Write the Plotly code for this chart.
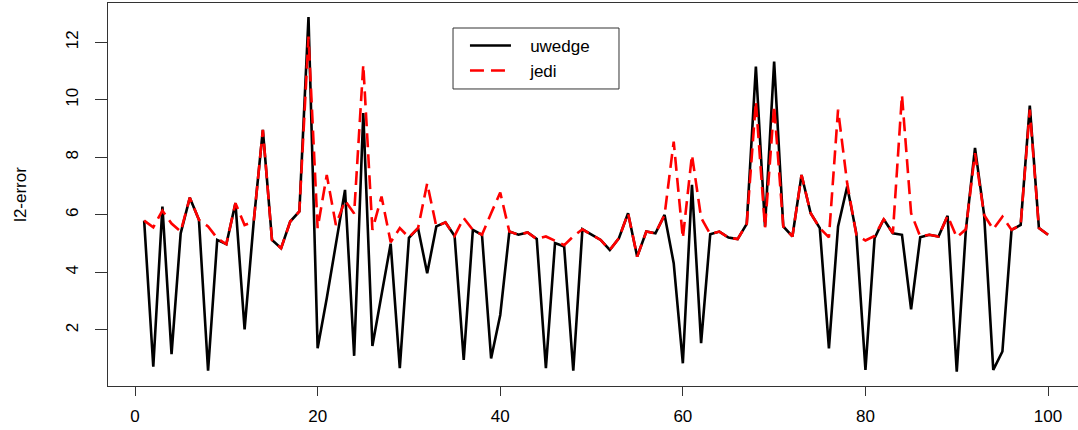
import plotly.graph_objects as go

x_index = list(range(1, 101))

uwedge = [5.80, 0.72, 6.29, 1.16, 5.36, 6.60, 5.83, 0.58, 5.13, 4.98,
          6.41, 2.02, 5.77, 8.96, 5.13, 4.84, 5.77, 6.12, 12.88, 1.36,
          3.10, 4.95, 6.87, 1.10, 9.54, 1.44, 3.22, 5.00, 0.67, 5.20,
          5.54, 3.97, 5.60, 5.74, 5.27, 0.96, 5.48, 5.31, 1.01, 2.52,
          5.42, 5.31, 5.39, 5.16, 0.67, 5.02, 4.90, 0.58, 5.50, 5.31,
          5.13, 4.78, 5.19, 6.06, 4.55, 5.42, 5.36, 6.00, 4.32, 0.84,
          7.05, 1.54, 5.33, 5.42, 5.21, 5.16, 5.69, 11.16, 5.60, 11.33,
          5.60, 5.25, 7.39, 6.06, 5.54, 1.36, 5.60, 6.99, 5.36, 0.61,
          5.19, 5.85, 5.36, 5.31, 2.72, 5.22, 5.31, 5.25, 5.97, 0.55,
          5.48, 8.33, 6.00, 0.61, 1.25, 5.48, 5.65, 9.80, 5.54, 5.31]

jedi = [5.80, 5.57, 6.15, 5.70, 5.42, 6.60, 5.83, 5.60, 5.19, 4.98,
        6.41, 5.65, 5.77, 8.96, 5.13, 4.84, 5.77, 6.12, 12.20, 5.54,
        7.39, 5.65, 6.50, 6.05, 11.22, 5.48, 6.64, 5.05, 5.54, 5.22,
        5.54, 7.10, 5.60, 5.74, 5.27, 5.89, 5.48, 5.31, 6.06, 6.78,
        5.42, 5.31, 5.39, 5.16, 5.25, 5.10, 4.95, 5.25, 5.50, 5.31,
        5.13, 4.78, 5.19, 6.06, 4.55, 5.42, 5.36, 6.00, 8.55, 5.19,
        8.09, 5.90, 5.33, 5.42, 5.21, 5.16, 5.69, 9.95, 5.54, 9.80,
        5.60, 5.25, 7.39, 6.06, 5.54, 5.22, 9.66, 7.10, 5.31, 5.11,
        5.27, 5.85, 5.36, 10.17, 6.06, 5.25, 5.31, 5.25, 5.97, 5.22,
        5.50, 8.15, 6.00, 5.50, 5.94, 5.48, 5.65, 9.66, 5.54, 5.31]

x_ticks = [0, 20, 40, 60, 80, 100]
y_ticks = [2, 4, 6, 8, 10, 12]
series_names = ["uwedge", "jedi"]
y_title = "l2-error"

FONT = "Liberation Sans, Arial, Helvetica, sans-serif"
NBSP = "\u00a0\u00a0\u00a0"

fig = go.Figure()
fig.add_trace(go.Scatter(x=x_index, y=uwedge, mode="lines", name=NBSP + series_names[0],
                         line=dict(color="black", width=2.6)))
fig.add_trace(go.Scatter(x=x_index, y=jedi, mode="lines", name=NBSP + series_names[1],
                         line=dict(color="red", width=2.6, dash="14px,7px")))

# legend frame (R-style box)
fig.add_shape(type="rect", xref="paper", yref="paper",
              x0=0.3557, x1=0.5268, y0=0.7755, y1=0.9347,
              line=dict(color="#333333", width=1), fillcolor="rgba(0,0,0,0)", layer="above")

fig.update_layout(
    width=1078, height=430,
    margin=dict(l=108, r=0, t=3, b=44),
    paper_bgcolor="white", plot_bgcolor="white",
    font=dict(family=FONT, size=17, color="black"),
    showlegend=True,
    legend=dict(
        x=0.368, y=0.935, xanchor="left", yanchor="top",
        borderwidth=0, bgcolor="rgba(0,0,0,0)",
        font=dict(family=FONT, size=17, color="black"),
        itemwidth=41,
    ),
)

fig.update_xaxes(
    range=[-2.96, 103.28], tickvals=x_ticks, ticktext=[str(v) for v in x_ticks],
    showgrid=False, zeroline=False, automargin=False,
    showline=True, linecolor="#333333", linewidth=1, mirror=True,
    ticks="outside", ticklen=9, tickcolor="#333333", tickwidth=1,
    ticklabelstandoff=6,
    tickfont=dict(family=FONT, size=17, color="black"),
)
fig.update_yaxes(
    range=[0.05, 13.37], tickvals=y_ticks, ticktext=[str(v) for v in y_ticks],
    showgrid=False, zeroline=False, automargin=False,
    showline=True, linecolor="#333333", linewidth=1, mirror=True,
    ticks="outside", ticklen=12, tickcolor="#333333", tickwidth=1,
    tickangle=-90, ticklabelstandoff=10,
    tickfont=dict(family=FONT, size=17, color="black"),
    title=dict(text=y_title, font=dict(family=FONT, size=17, color="black"), standoff=32),
)

fig.write_html("out.html",
               config={"displayModeBar": False},
               post_script="document.body.style.margin='0';document.body.style.padding='0';")
